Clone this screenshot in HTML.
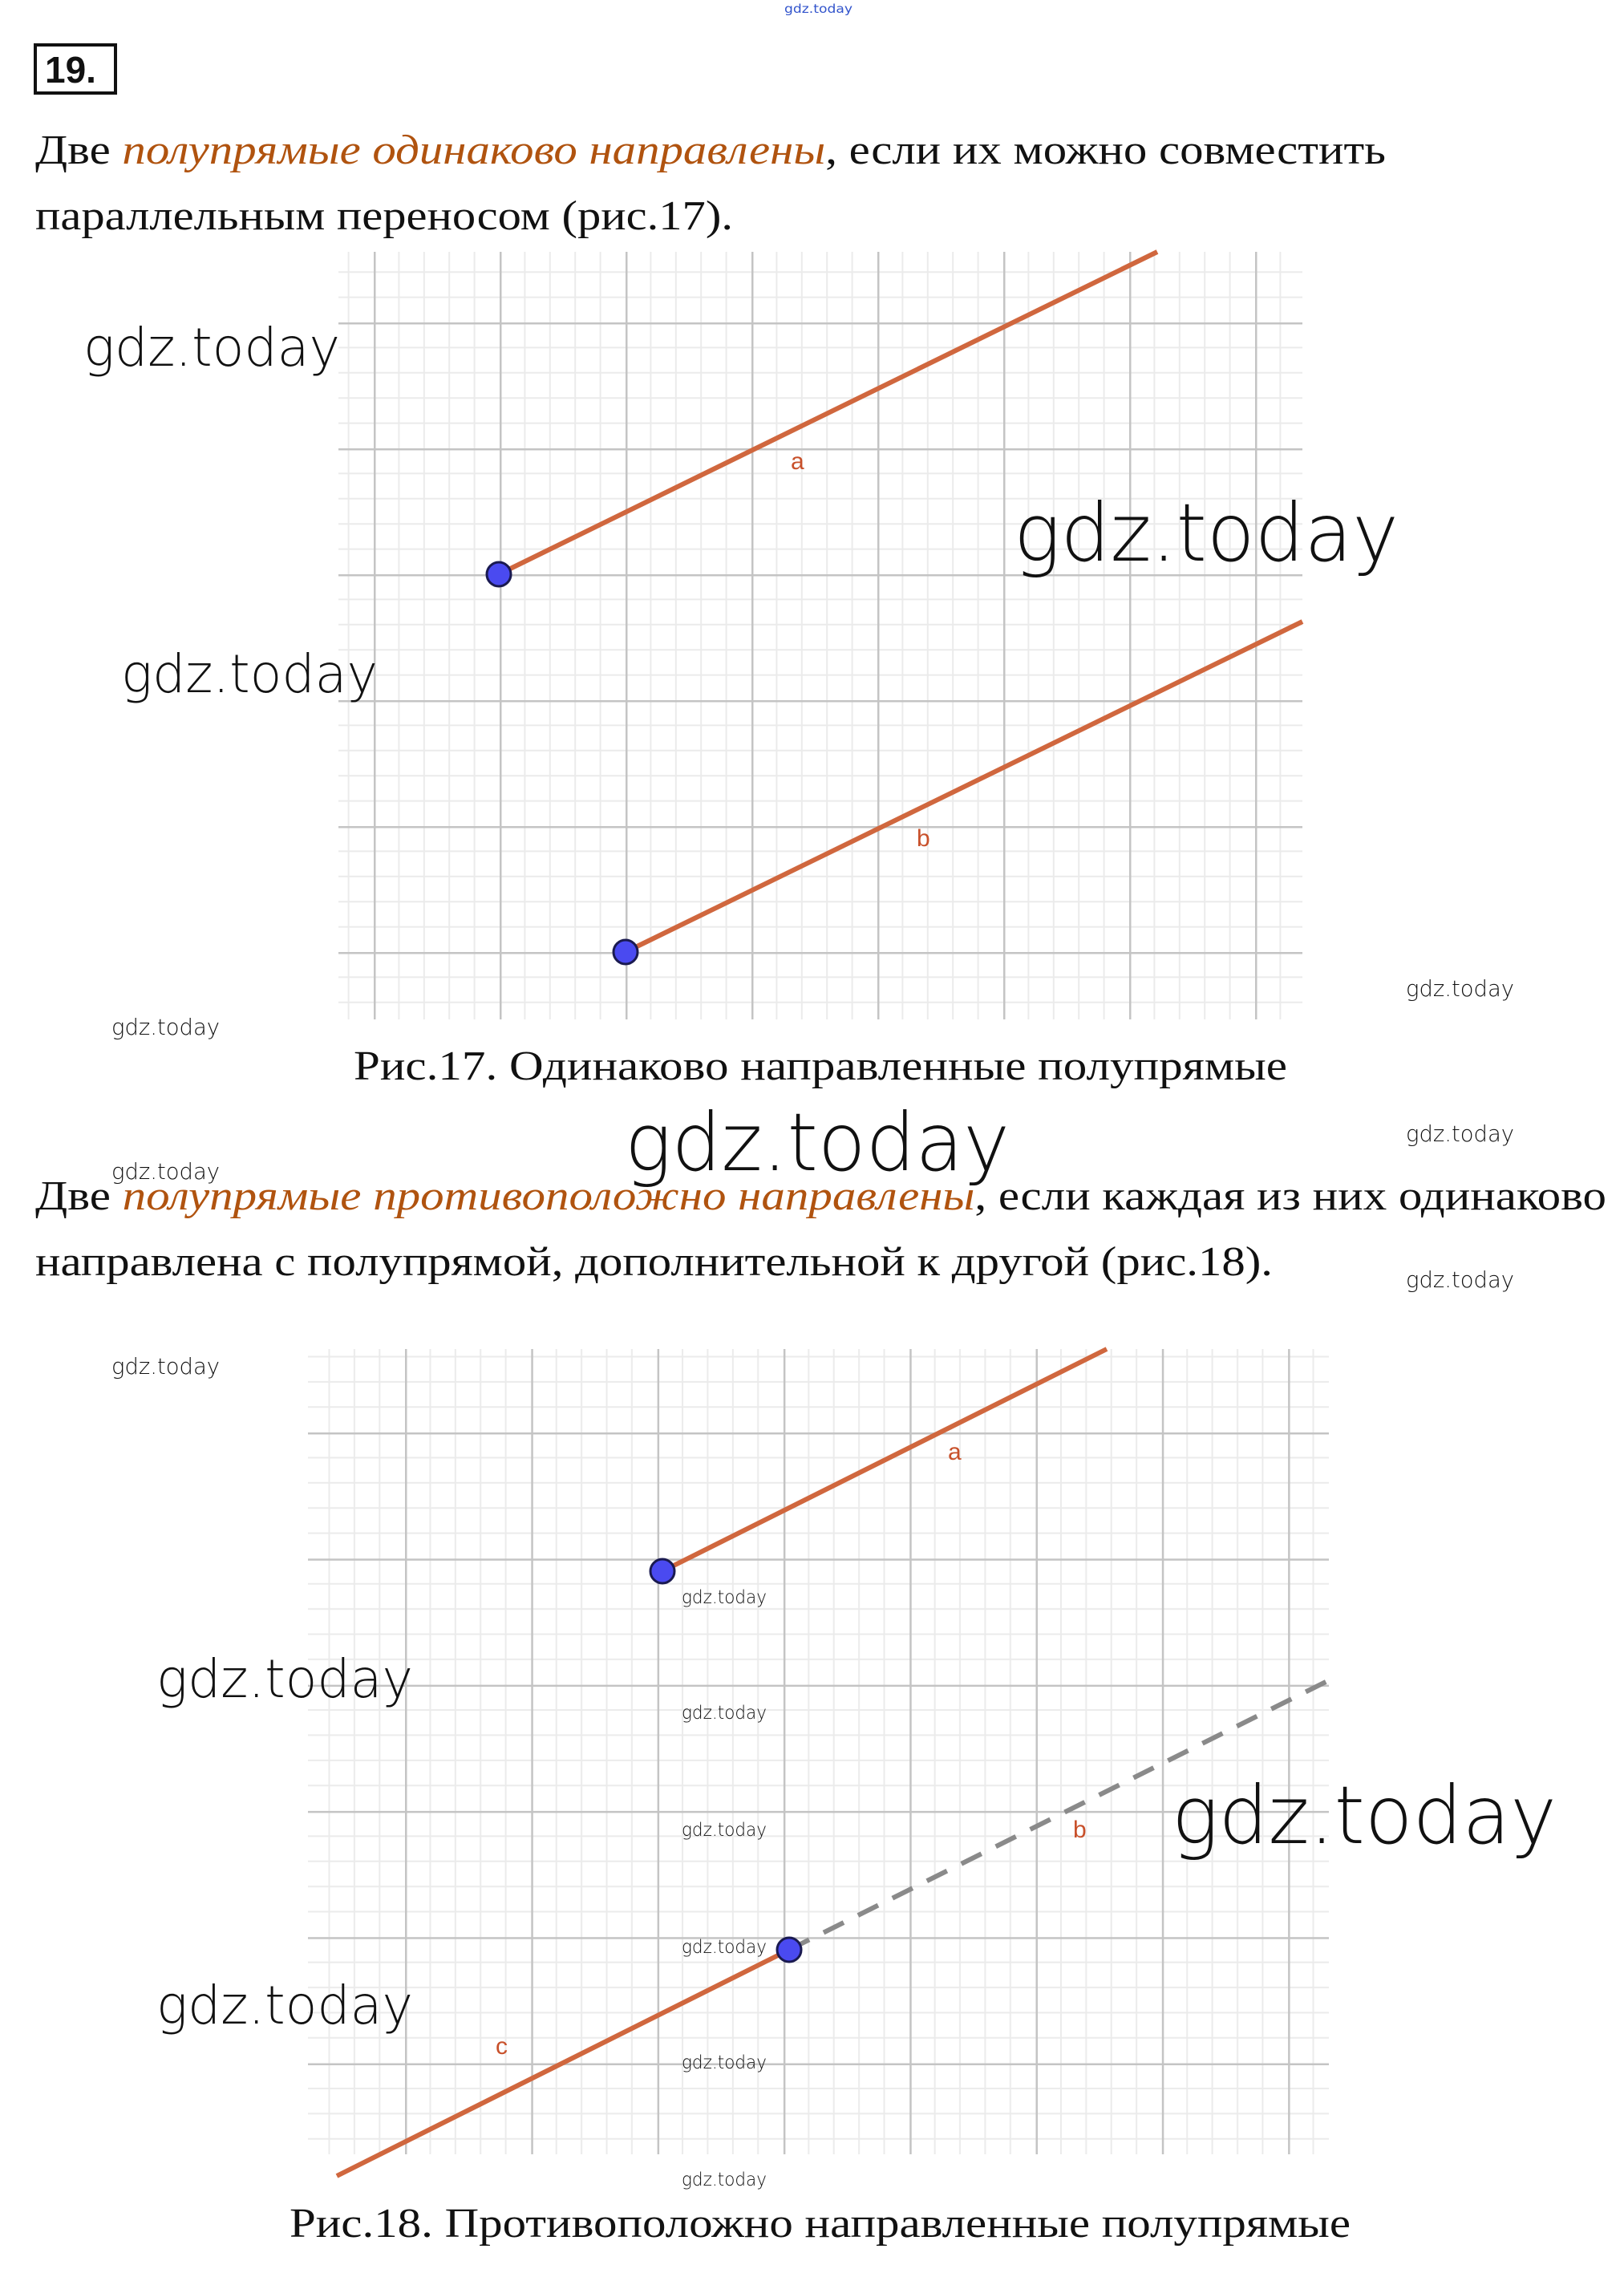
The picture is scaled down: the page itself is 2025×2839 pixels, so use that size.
<!DOCTYPE html>
<html><head><meta charset="utf-8"><style>
html,body{margin:0;padding:0;background:#fff;}
svg{display:block;}
.w{font-family:"DejaVu Sans","Liberation Sans",sans-serif;font-weight:200;fill:#111;}
.t{font-family:"Liberation Serif",serif;font-size:52px;fill:#111;}
.o{fill:#b0530f;font-style:italic;}
.lbl{font-family:"Liberation Sans",sans-serif;font-size:30px;fill:#c8502a;}
</style></head><body>
<svg width="2025" height="2839" viewBox="0 0 2025 2839" xmlns="http://www.w3.org/2000/svg">
<defs>
<pattern id="g1" patternUnits="userSpaceOnUse" x="466" y="402" width="157" height="157">
<g stroke="#ebebeb" stroke-width="2">
<line x1="31.4" y1="0" x2="31.4" y2="157"/><line x1="62.8" y1="0" x2="62.8" y2="157"/><line x1="94.2" y1="0" x2="94.2" y2="157"/><line x1="125.6" y1="0" x2="125.6" y2="157"/>
<line y1="31.4" x1="0" y2="31.4" x2="157"/><line y1="62.8" x1="0" y2="62.8" x2="157"/><line y1="94.2" x1="0" y2="94.2" x2="157"/><line y1="125.6" x1="0" y2="125.6" x2="157"/>
</g>
<g stroke="#c4c4c4" stroke-width="3"><line x1="1" y1="0" x2="1" y2="157"/><line x1="0" y1="1" x2="157" y2="1"/></g>
</pattern>
<pattern id="g2" patternUnits="userSpaceOnUse" x="510" y="1800" width="157.3" height="157.3">
<g stroke="#ebebeb" stroke-width="2">
<line x1="31.4" y1="0" x2="31.4" y2="158"/><line x1="62.8" y1="0" x2="62.8" y2="158"/><line x1="94.2" y1="0" x2="94.2" y2="158"/><line x1="125.6" y1="0" x2="125.6" y2="158"/>
<line y1="31.4" x1="0" y2="31.4" x2="158"/><line y1="62.8" x1="0" y2="62.8" x2="158"/><line y1="94.2" x1="0" y2="94.2" x2="158"/><line y1="125.6" x1="0" y2="125.6" x2="158"/>
</g>
<g stroke="#c4c4c4" stroke-width="3"><line x1="1" y1="0" x2="1" y2="158"/><line x1="0" y1="1" x2="158" y2="1"/></g>
</pattern>
</defs>

<text x="978" y="16" font-family="DejaVu Sans,sans-serif" font-size="15" fill="#3355cc" textLength="85" lengthAdjust="spacingAndGlyphs">gdz.today</text>

<rect x="44" y="56" width="100" height="60" fill="none" stroke="#111" stroke-width="4"/>
<text x="56" y="103" font-family="Liberation Sans,sans-serif" font-weight="bold" font-size="46" fill="#111">19.</text>

<text class="t" x="44" y="204" textLength="1684" lengthAdjust="spacingAndGlyphs">Две <tspan class="o">полупрямые одинаково направлены</tspan>, если их можно совместить</text>
<text class="t" x="44" y="286" textLength="870" lengthAdjust="spacingAndGlyphs">параллельным переносом (рис.17).</text>

<!-- Fig 17 -->
<rect x="422" y="314" width="1202" height="957" fill="url(#g1)"/>
<line x1="622" y1="716" x2="1443" y2="314" stroke="#d0673e" stroke-width="6"/>
<line x1="780" y1="1187" x2="1624" y2="775" stroke="#d0673e" stroke-width="6"/>
<circle cx="622" cy="716" r="15" fill="#4a4af0" stroke="#1a1a50" stroke-width="3"/>
<circle cx="780" cy="1187" r="15" fill="#4a4af0" stroke="#1a1a50" stroke-width="3"/>
<text class="lbl" x="986" y="585">a</text>
<text class="lbl" x="1143" y="1055">b</text>

<text class="t" x="441" y="1346" textLength="1164" lengthAdjust="spacingAndGlyphs">Рис.17. Одинаково направленные полупрямые</text>

<text class="t" x="44" y="1508" textLength="1959" lengthAdjust="spacingAndGlyphs">Две <tspan class="o">полупрямые противоположно направлены</tspan>, если каждая из них одинаково</text>
<text class="t" x="44" y="1590" textLength="1543" lengthAdjust="spacingAndGlyphs">направлена с полупрямой, дополнительной к другой (рис.18).</text>

<!-- Fig 18 -->
<g transform="translate(-5,-14)">
<rect x="389" y="1696" width="1273" height="1004" fill="url(#g2)" transform="translate(5,14) translate(-5,-14)"/>
<line x1="831" y1="1973" x2="1385" y2="1696" stroke="#d0673e" stroke-width="6"/>
<line x1="989" y1="2445" x2="1662" y2="2109" stroke="#8a8a8a" stroke-width="6" stroke-dasharray="28,20"/>
<line x1="989" y1="2445" x2="425" y2="2727" stroke="#d0673e" stroke-width="6"/>
<circle cx="831" cy="1973" r="15" fill="#4a4af0" stroke="#1a1a50" stroke-width="3"/>
<circle cx="989" cy="2445" r="15" fill="#4a4af0" stroke="#1a1a50" stroke-width="3"/>
<text class="lbl" x="1187" y="1834">a</text>
<text class="lbl" x="1343" y="2305" fill="#888">b</text>
<text class="lbl" x="623" y="2575">c</text>
</g>

<text class="t" x="361" y="2789" textLength="1323" lengthAdjust="spacingAndGlyphs">Рис.18. Противоположно направленные полупрямые</text>

<!-- watermarks -->
<g class="w">
<text x="104" y="456" font-size="66" textLength="320" lengthAdjust="spacingAndGlyphs">gdz.today</text>
<text x="151" y="863" font-size="66" textLength="320" lengthAdjust="spacingAndGlyphs">gdz.today</text>
<text x="1264" y="699" font-size="100" textLength="480" lengthAdjust="spacingAndGlyphs">gdz.today</text>
<text x="779" y="1459" font-size="100" textLength="480" lengthAdjust="spacingAndGlyphs">gdz.today</text>
<text x="195" y="2116" font-size="66" textLength="320" lengthAdjust="spacingAndGlyphs">gdz.today</text>
<text x="195" y="2523" font-size="66" textLength="320" lengthAdjust="spacingAndGlyphs">gdz.today</text>
<text x="1461" y="2298" font-size="100" textLength="480" lengthAdjust="spacingAndGlyphs">gdz.today</text>
<g font-size="28">
<text x="139" y="1290" textLength="135" lengthAdjust="spacingAndGlyphs">gdz.today</text>
<text x="1753" y="1242" textLength="135" lengthAdjust="spacingAndGlyphs">gdz.today</text>
<text x="1753" y="1423" textLength="135" lengthAdjust="spacingAndGlyphs">gdz.today</text>
<text x="139" y="1470" textLength="135" lengthAdjust="spacingAndGlyphs">gdz.today</text>
<text x="1753" y="1605" textLength="135" lengthAdjust="spacingAndGlyphs">gdz.today</text>
<text x="139" y="1713" textLength="135" lengthAdjust="spacingAndGlyphs">gdz.today</text>
</g>
<g font-size="23">
<text x="850" y="1999" textLength="106" lengthAdjust="spacingAndGlyphs">gdz.today</text>
<text x="850" y="2143" textLength="106" lengthAdjust="spacingAndGlyphs">gdz.today</text>
<text x="850" y="2289" textLength="106" lengthAdjust="spacingAndGlyphs">gdz.today</text>
<text x="850" y="2435" textLength="106" lengthAdjust="spacingAndGlyphs">gdz.today</text>
<text x="850" y="2579" textLength="106" lengthAdjust="spacingAndGlyphs">gdz.today</text>
<text x="850" y="2725" textLength="106" lengthAdjust="spacingAndGlyphs">gdz.today</text>
</g>
</g>
</svg>
</body></html>
